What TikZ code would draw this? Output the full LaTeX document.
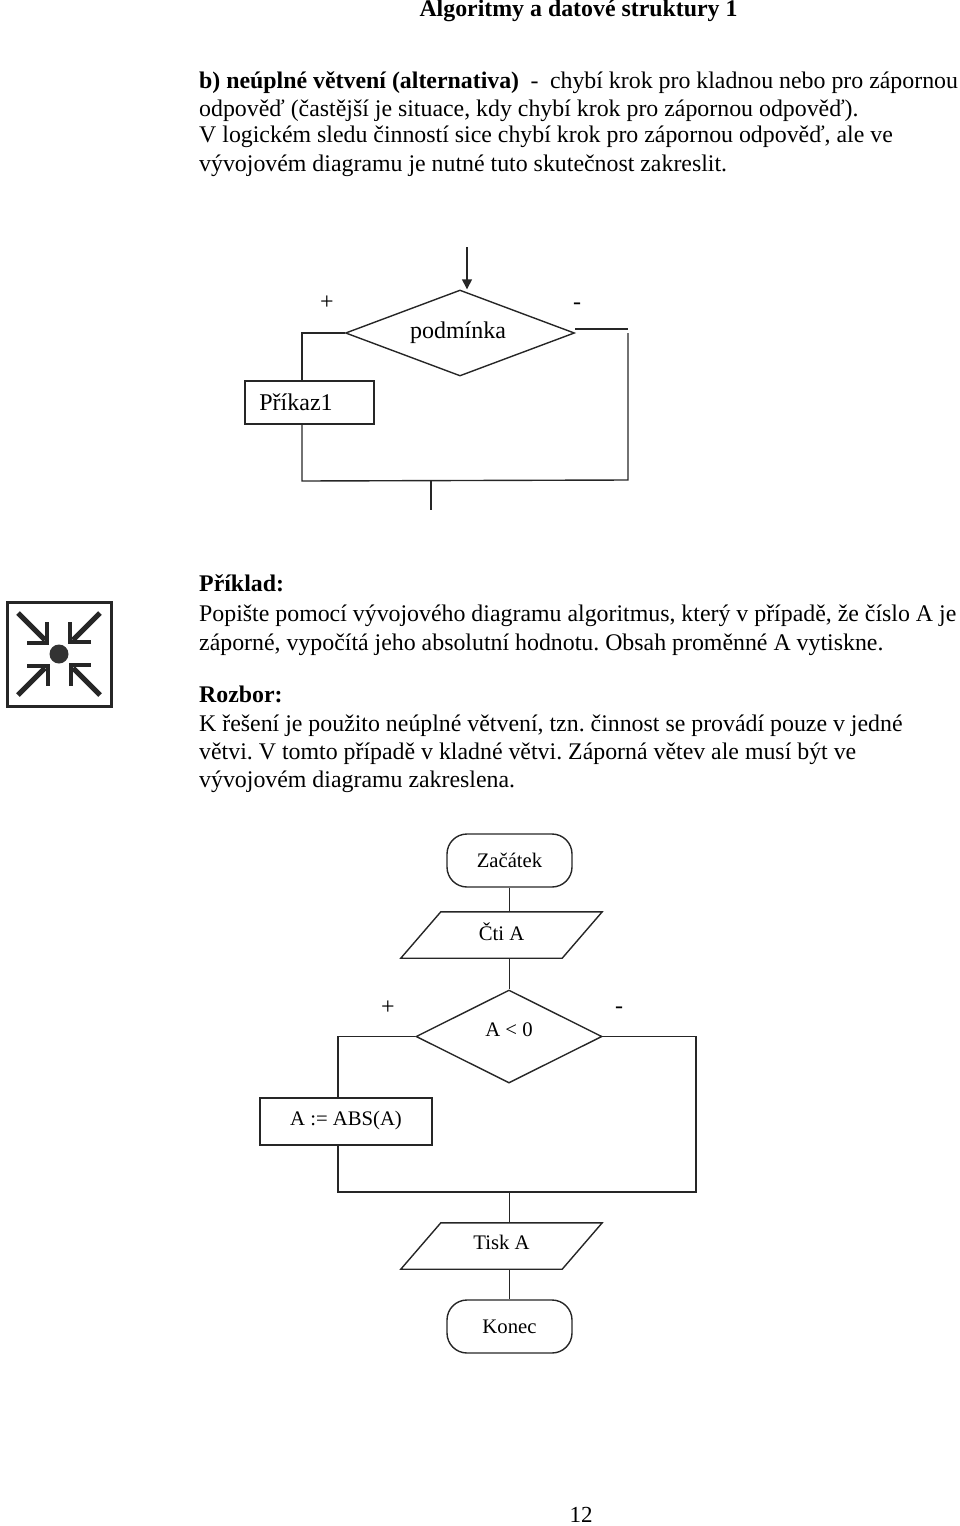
\documentclass[tikz,border=0pt]{standalone}
\usepackage{fontspec}
\setmainfont{Liberation Serif}
\usetikzlibrary{arrows.meta,positioning,shapes.geometric}

% one unit of the picture is one pixel of the page
\tikzset{
    x=1pt,y=-1pt,
    textline/.style={anchor=base west,inner sep=0pt,font=\fontsize{23.85}{28}\selectfont\frenchspacing},
    boldline/.style={textline,font=\fontsize{23.85}{28}\bfseries\selectfont},
    flowtext/.style={font=\fontsize{24}{28}\selectfont},
    flowtextB/.style={font=\fontsize{20.7}{24}\selectfont},
    flowline/.style={line width=1.4pt,draw=black!85},
    prikazbox/.style={flowline,rectangle,inner sep=0pt},
    rozhodbox/.style={flowline,diamond,inner sep=0pt},
    startbox/.style={flowline,rectangle,rounded corners=20pt,minimum width=125pt,minimum height=53pt,inner sep=0pt,flowtextB},
    databox/.style={rectangle,inner sep=0pt,minimum width=201pt,minimum height=46pt,flowtextB},
}
% parallelogram round a data node
\newcommand{\datapath}[1]{\draw[flowline] (#1.south west) -- ([xshift=40pt]#1.north west) -- (#1.north east) -- ([xshift=-40pt]#1.south east) -- cycle;}

\begin{document}
\begin{tikzpicture}
    \useasboundingbox (0,0) rectangle (960,1526);

    % Text above the first diagram
    \node[boldline,anchor=base] (nadpis) at (578.5,16) {Algoritmy a datové struktury 1};
    \node[textline] (radekA) at (199,88) {\textbf{b) neúplné větvení (alternativa)} \hspace{5.5pt}-\hspace{5.5pt} chybí krok pro kladnou nebo pro zápornou};
    \node[textline] (radekB) at (199,116) {odpověď (častější je situace, kdy chybí krok pro zápornou odpověď).};
    \node[textline] (radekC) at (199,142) {V logickém sledu činností sice chybí krok pro zápornou odpověď, ale ve};
    \node[textline] (radekD) at (199,171) {vývojovém diagramu je nutné tuto skutečnost zakreslit.};

    % General incomplete branching
    \coordinate (vstup) at (467,247);
    \node[rozhodbox,flowtext,aspect=2.66,minimum width=229pt,minimum height=86pt] (podminka) at (460,333) {\hspace*{-4pt}podmínka};
    \node[flowtext] (plusA) at (327,303) {+};
    \node[flowtext] (minusA) at (577,306) {-};
    \node[prikazbox,flowtext,minimum width=129pt,minimum height=43pt] (prikaz) at (309.5,402.5) {\hspace*{-27pt}Příkaz1};
    \coordinate (levaA) at (302,481);
    \coordinate (pravaA) at (628,480);
    \coordinate (vystupA) at (431,510);
    \draw[flowline,-{Triangle[length=10pt,width=10pt]}] (vstup) -- (vstup |- podminka.north);
    \draw[flowline] (podminka.west) -| (levaA |- prikaz.north);
    \draw[flowline] (levaA |- prikaz.south) -- (levaA) -- (pravaA) -- (pravaA |- podminka.east);
    \draw[flowline] ([yshift=4pt]podminka.east) -- ++(53,0);
    \draw[flowline] (vystupA |- levaA) -- (vystupA);

    % Icon in the margin
    \draw[line width=3pt,black!85] (7,602) rectangle (111,706);
    \fill[black!80] (59,654) circle (9.5);
    \foreach \uhel in {0,90,180,270} {
        \begin{scope}[rotate around={\uhel:(59,654)}]
            \draw[line width=5pt,black!85] (18,613) -- (45,640);
            \draw[line width=4.5pt,black!85] (47,622) -- (47,643) -- (27,643);
        \end{scope}
    }

    % Example text
    \node[boldline] (priklad) at (199,591) {Příklad:};
    \node[textline] (radekE) at (199,621) {Popište pomocí vývojového diagramu algoritmus, který v případě, že číslo A je};
    \node[textline] (radekF) at (199,650) {záporné, vypočítá jeho absolutní hodnotu. Obsah proměnné A vytiskne.};
    \node[boldline] (rozbor) at (199,702) {Rozbor:};
    \node[textline] (radekG) at (199,731) {K řešení je použito neúplné větvení, tzn. činnost se provádí pouze v jedné};
    \node[textline] (radekH) at (199,759) {větvi. V tomto případě v kladné větvi. Záporná větev ale musí být ve};
    \node[textline] (radekI) at (199,787) {vývojovém diagramu zakreslena.};

    % Flowchart of the example
    \node[startbox] (zacatek) at (509.5,860.5) {Začátek};
    \node[databox,text depth=6pt] (cti) at (501.5,935) {Čti A};
    \datapath{cti}
    \node[rozhodbox,flowtextB,aspect=2,minimum width=186pt,minimum height=93pt,text depth=14pt] (podminkaA) at (509,1036.5) {A < 0};
    \node[flowtext] (plusB) at (388,1008) {+};
    \node[flowtext] (minusB) at (619,1010) {-};
    \node[prikazbox,flowtextB,minimum width=172pt,minimum height=47pt,text depth=6pt] (abs) at (346,1121.5) {A := ABS(A)};
    \node[databox,text depth=8pt] (tisk) at (501.5,1246) {Tisk A};
    \datapath{tisk}
    \node[startbox] (konec) at (509.5,1326.5) {Konec};
    \coordinate (levaB) at (338,1192);
    \coordinate (pravaB) at (696,1192);
    \draw[flowline] (zacatek.south) -- (zacatek.south |- cti.north);
    \draw[flowline] (zacatek.south |- cti.south) -- (zacatek.south |- podminkaA.north);
    \draw[flowline] (podminkaA.west) -| (levaB |- abs.north);
    \draw[flowline] (levaB |- abs.south) -- (levaB) -- (pravaB) |- (podminkaA.east);
    \draw[flowline] (zacatek.south |- levaB) -- (zacatek.south |- tisk.north);
    \draw[flowline] (zacatek.south |- tisk.south) -- (konec.north);

    % Page number
    \node[textline,anchor=base,font=\fontsize{23}{28}\selectfont] (strana) at (581,1522.5) {12};
\end{tikzpicture}
\end{document}
